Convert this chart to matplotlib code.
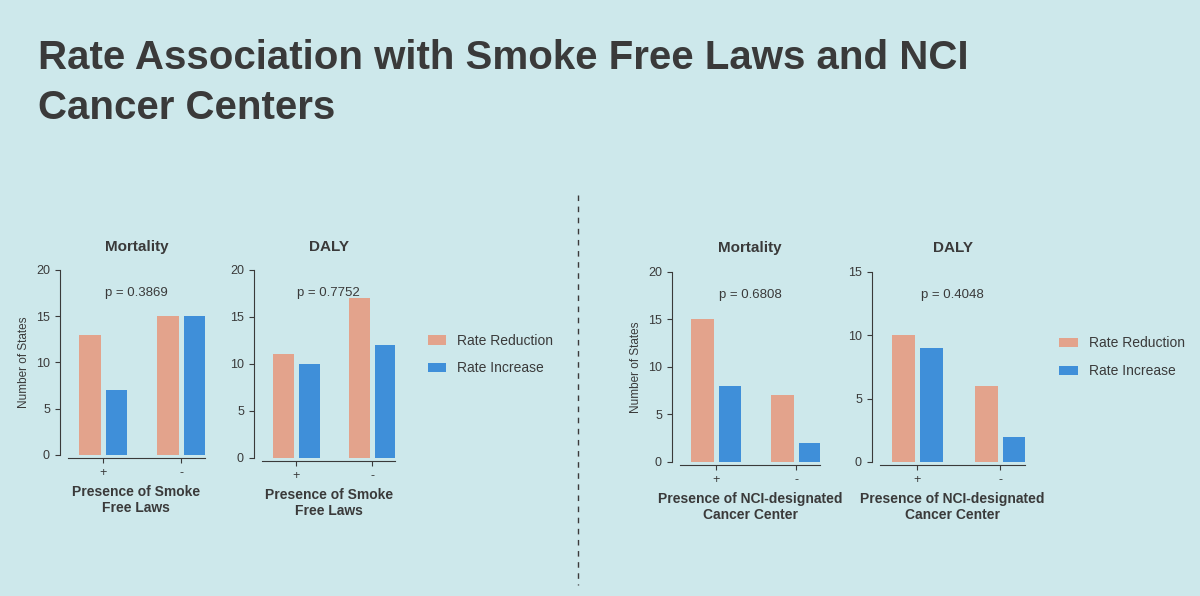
import matplotlib
matplotlib.use("Agg")
import matplotlib.pyplot as plt
import numpy as np

plt.rcParams['font.family'] = ['Liberation Sans', 'DejaVu Sans']

categories = ['+', '-']
smoke_mort_red = [13, 15]
smoke_mort_inc = [7, 15]
smoke_daly_red = [11, 17]
smoke_daly_inc = [10, 12]
nci_mort_red = [15, 7]
nci_mort_inc = [8, 2]
nci_daly_red = [10, 6]
nci_daly_inc = [9, 2]
pvals = ['p = 0.3869', 'p = 0.7752', 'p = 0.6808', 'p = 0.4048']

bg = '#cde8eb'
red = '#e3a38c'
blue = '#3f8fd9'
dark = '#3a3a3a'

fig = plt.figure(figsize=(12, 5.96), dpi=100, facecolor=bg)
fig.text(38/1200, 1-58/596, 'Rate Association with Smoke Free Laws and NCI', fontsize=29,
         fontweight='bold', color=dark, va='center')
fig.text(38/1200, 1-108/596, 'Cancer Centers', fontsize=29, fontweight='bold', color=dark, va='center')

panels = [
    ([68/1200, 0.237, 0.114, 0.310], smoke_mort_red, smoke_mort_inc, 'Mortality', pvals[0], 20, 'Presence of Smoke\nFree Laws', True),
    ([262/1200, 0.232, 0.111, 0.315], smoke_daly_red, smoke_daly_inc, 'DALY', pvals[1], 20, 'Presence of Smoke\nFree Laws', False),
    ([680/1200, 0.225, 0.117, 0.319], nci_mort_red, nci_mort_inc, 'Mortality', pvals[2], 20, 'Presence of NCI-designated\nCancer Center', True),
    ([880/1200, 0.225, 0.121, 0.319], nci_daly_red, nci_daly_inc, 'DALY', pvals[3], 15, 'Presence of NCI-designated\nCancer Center', False),
]
x = np.arange(len(categories))
for rect, r, i, title, p, ymax, xl, ylab in panels:
    ax = fig.add_axes(rect)
    ax.set_facecolor('none')
    ax.bar(x - 0.17, r, 0.28, color=red, label='Rate Reduction')
    ax.bar(x + 0.17, i, 0.28, color=blue, label='Rate Increase')
    ax.set_xlim(-0.45, 1.3)
    ax.set_ylim(0, ymax)
    ax.set_yticks(np.arange(0, ymax + 1, 5))
    ax.set_xticks(x)
    ax.set_xticklabels(categories)
    for s in ['top', 'right']:
        ax.spines[s].set_visible(False)
    ax.spines['left'].set_position(('outward', 6))
    ax.spines['bottom'].set_position(('outward', 2))
    for s in ['left', 'bottom']:
        ax.spines[s].set_color(dark)
    ax.tick_params(colors=dark, labelsize=9)
    ax.set_title(title, fontsize=11, fontweight='bold', color=dark, pad=14)
    ax.text(0.5, 0.86, p, transform=ax.transAxes, ha='center', fontsize=9.5, color=dark)
    ax.set_xlabel(xl, fontsize=10, fontweight='bold', color=dark)
    if ylab:
        ax.set_ylabel('Number of States', fontsize=8.5, color=dark)
    else:
        ax.legend(loc='center left', bbox_to_anchor=(1.15, 0.55), frameon=False,
                  fontsize=10, handlelength=1.3, labelcolor=dark, labelspacing=1.0)

fig.add_artist(plt.Line2D([578/1200, 578/1200], [1-195/596, 1-585/596], color=dark,
                          linestyle=(0, (4, 4)), linewidth=1))
fig.savefig('out.png', facecolor=bg)
